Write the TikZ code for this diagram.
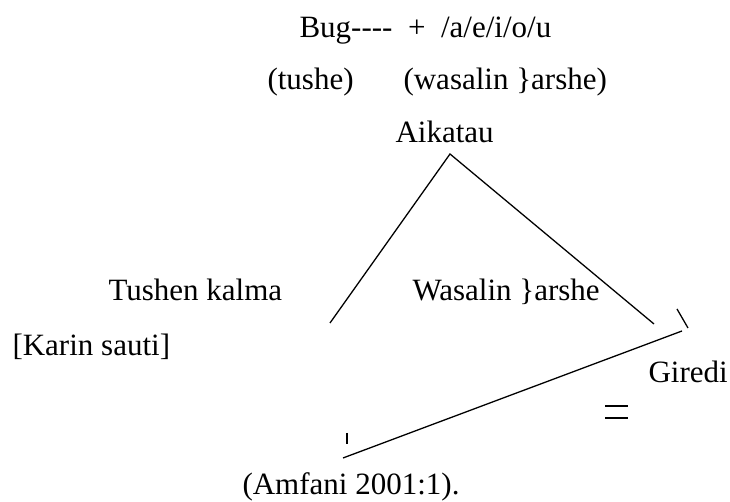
\documentclass[tikz,border=0pt]{standalone}
\usepackage{fontspec}
\setmainfont{Liberation Serif}
\usetikzlibrary{positioning}

\begin{document}
\begin{tikzpicture}[
      x=0.387pt, y=-0.387pt,
      lbl/.style={anchor=base west, inner sep=0pt, font=\fontsize{12}{14}\selectfont},
      branch/.style={draw, line width=0.5pt}
    ]
      \useasboundingbox (0,0) rectangle (730,502);

      % header lines
      \node[lbl] (formula) at (299,38) {Bug-{}-{}-{}-\ \ +\ \ /a/e/i/o/u};
      \node[lbl] (tushe) at (267,90) {(tushe)};
      \node[lbl] (wasalin) at (403,90) {(wasalin \}arshe)};
      \node[lbl] (aikatau) at (395,143) {Aikatau};

      % tree
      \coordinate (apex) at (450,154);
      \coordinate (leftfoot) at (330,323);
      \coordinate (rightfoot) at (654,324);
      \draw[branch] (leftfoot) -- (apex) -- (rightfoot);

      \node[lbl] (tkalma) at (108,301) {Tushen kalma};
      \node[lbl] (karin) at (12,356) {[Karin sauti]};
      \node[lbl] (wkarshe) at (412,301) {Wasalin \}arshe};
      \node[lbl] (giredi) at (648,383) {Giredi};

      % bottom stroke with ticks
      \coordinate (tickA) at (677,309);
      \coordinate (tickB) at (688,328);
      \coordinate (lowend) at (343,458);
      \coordinate (highend) at (682,331);
      \coordinate (tickC) at (347,433);
      \coordinate (tickD) at (347,444);
      \draw[branch] (tickA) -- (tickB);
      \draw[branch] (lowend) -- (highend);
      \draw[branch] (tickC) -- (tickD);

      % equals mark
      \coordinate (eqA) at (605,406);
      \coordinate (eqB) at (628,406);
      \coordinate (eqC) at (605,418);
      \coordinate (eqD) at (628,418);
      \draw[branch] (eqA) -- (eqB);
      \draw[branch] (eqC) -- (eqD);

      \node[lbl] (amfani) at (242,495) {(Amfani 2001:1).};
    \end{tikzpicture}
\end{document}
